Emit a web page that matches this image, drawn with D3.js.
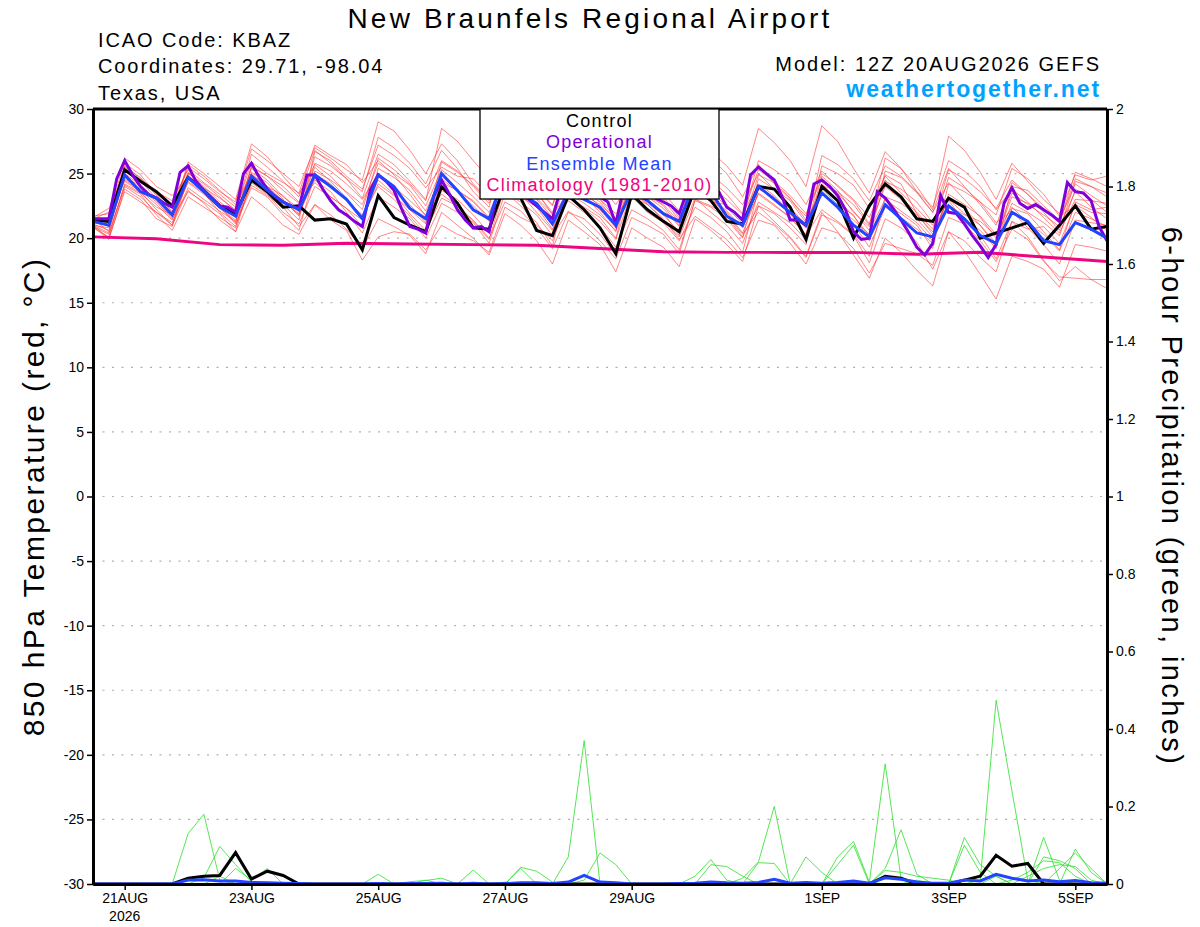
<!DOCTYPE html>
<meta charset="utf-8" />
<title>New Braunfels Regional Airport - GEFS meteogram</title>
<script src="https://cdn.jsdelivr.net/npm/d3@7/dist/d3.min.js"></script>

<style>
  body {
    margin: 0;
    padding: 0;
    background: #fff;
    font-family: "Liberation Sans", Arial, Helvetica, sans-serif;
  }

  .grid line {
    stroke: #b0b0b0;
    stroke-width: 1.2;
    stroke-dasharray: 2, 7.5;
  }

  .axis text {
    font-size: 14px;
    font-family: "Liberation Sans", Arial, sans-serif;
    fill: #000;
  }

  .axis line {
    stroke: #000;
    stroke-width: 1.5;
  }

  .axis path {
    stroke: #000;
    stroke-width: 3;
  }

  .member { fill: none; stroke: #ff2a2a; stroke-width: 0.8; opacity: 0.7; }
  .pmember { fill: none; stroke: #2ee02e; stroke-width: 0.9; opacity: 0.9; }
</style>

<body>
  <div id="chart"></div>
</body>

<script>
  // ---- data ----
  // run start 20AUG2026 12Z, 6-hourly ensemble, 3-hourly operational
  const runStart = Date.UTC(2026, 7, 20, 12);
  const runEnd = Date.UTC(2026, 8, 5, 12);

  const tempTicks = [30, 25, 20, 15, 10, 5, 0, -5, -10, -15, -20, -25, -30];
  const gridTicks = [25, 20, 15, 10, 5, 0, -5, -10, -15, -20, -25];
  const precipTicks = [0, 0.2, 0.4, 0.6, 0.8, 1, 1.2, 1.4, 1.6, 1.8, 2];
  const dateTicks = [
    Date.UTC(2026, 7, 21), Date.UTC(2026, 7, 23), Date.UTC(2026, 7, 25), Date.UTC(2026, 7, 27),
    Date.UTC(2026, 7, 29), Date.UTC(2026, 8, 1), Date.UTC(2026, 8, 3), Date.UTC(2026, 8, 5)
  ];
  const dateLabels = ["21AUG", "23AUG", "25AUG", "27AUG", "29AUG", "1SEP", "3SEP", "5SEP"];

  const legendItems = [
    { name: "Control", color: "#000000" },
    { name: "Operational", color: "#8000dc" },
    { name: "Ensemble Mean", color: "#2244ff" },
    { name: "Climatology (1981-2010)", color: "#ee0580" }
  ];

  // 850 hPa temperature, control (6-hourly)
  const controlTemp = [21.4, 21.3, 25.3, 24.4, 23.6, 22.5, 24.7, 23.7, 22.5, 21.9, 24.5, 23.6,
    22.4, 22.5, 21.4, 21.5, 21.1, 19.1, 23.3, 21.6, 21.0, 20.5, 24.0, 22.7,
    20.8, 20.7, 24.2, 23.1, 20.6, 20.2, 23.3, 22.2, 20.8, 18.8, 23.4, 22.2,
    21.3, 20.5, 23.9, 22.9, 21.3, 21.1, 24.0, 23.8, 22.4, 19.9, 24.0, 22.9,
    20.0, 22.5, 24.2, 23.2, 21.5, 21.3, 23.1, 22.4, 20.0, 20.4, 20.8, 21.2,
    19.6, 21.0, 22.5, 20.7, 20.9];

  // ensemble mean (6-hourly)
  const meanTemp = [21.3, 21.0, 24.9, 23.6, 23.1, 21.8, 24.7, 23.6, 22.4, 21.7, 24.8, 23.7,
    22.8, 22.2, 24.9, 24.0, 23.0, 21.5, 24.9, 24.0, 22.3, 21.5, 25.0, 23.7,
    22.2, 21.5, 25.0, 23.4, 22.7, 21.1, 23.6, 23.0, 22.4, 21.0, 23.7, 22.9,
    21.9, 21.3, 24.3, 23.6, 21.7, 21.0, 24.0, 23.0, 22.0, 21.0, 23.5, 22.4,
    21.0, 20.1, 22.6, 21.5, 20.4, 20.1, 22.5, 21.5, 20.2, 19.6, 22.0, 21.3,
    19.8, 19.5, 21.2, 20.7, 20.0];

  // operational GFS (3-hourly)
  const operTemp = [21.5, 21.5, 21.5, 24.6, 26.0, 24.9, 24.0, 23.4, 23.1, 22.7,
    22.4, 25.1, 25.6, 24.4, 23.7, 23.1, 22.5, 22.4, 22.0, 25.0,
    25.8, 24.7, 23.8, 23.2, 22.8, 22.5, 22.3, 24.9, 24.9, 23.8,
    22.9, 22.2, 21.8, 21.3, 20.9, 23.7, 24.9, 24.4, 23.7, 22.2,
    20.9, 20.7, 20.4, 23.2, 24.5, 23.4, 22.2, 21.4, 20.8, 20.9,
    20.5, 23.5, 24.8, 24.5, 23.8, 23.0, 22.5, 22.0, 21.5, 23.8,
    24.6, 24.0, 23.3, 23.6, 23.2, 22.8, 21.1, 24.0, 25.0, 24.6,
    23.6, 23.1, 22.8, 22.5, 21.9, 23.7, 24.8, 24.5, 24.0, 23.6,
    22.4, 22.0, 21.4, 24.9, 25.5, 25.0, 24.5, 23.2, 21.4, 21.4,
    21.0, 24.2, 24.5, 24.0, 23.3, 22.2, 20.5, 19.9, 20.0, 23.6,
    23.1, 22.3, 21.4, 20.4, 19.3, 18.7, 19.6, 23.3, 22.0, 21.9,
    21.1, 20.2, 19.4, 18.5, 19.5, 22.7, 23.9, 22.7, 22.3, 22.6,
    22.2, 21.8, 21.3, 24.3, 23.6, 23.5, 22.9, 20.9, 19.8];

  // climatology, daily at 12Z
  const climTemp = [20.1, 19.95, 19.5, 19.45, 19.6, 19.55, 19.5, 19.45, 19.2,
    18.95, 18.9, 18.9, 18.9, 18.75, 18.9, 18.55, 18.2];

  // ensemble members (6-hourly), four values per day
  const r01 = [21.5, 20.5, 25.2, 24.3, 23.5, 22.4, 25.5, 24.6, 23.6, 22.8, 26.9, 26.0, 25.0, 24.0, 27.0, 26.2,
    25.3, 24.5, 29.0, 28.3, 26.8, 25.0, 27.3, 26.0, 24.2, 23.0, 26.2, 25.0, 23.5, 22.0, 25.5, 24.4,
    23.0, 21.5, 24.6, 23.5, 22.5, 21.0, 24.0, 23.1, 22.0, 20.4, 23.5, 22.6, 21.6, 20.2, 24.8, 23.7,
    22.0, 20.9, 24.0, 23.0, 21.5, 20.1, 23.2, 22.3, 21.0, 19.6, 22.7, 22.0, 21.2, 20.2, 23.8, 23.0, 22.0];
  const r02 = [21.2, 21.0, 25.8, 24.9, 23.4, 22.0, 24.9, 23.8, 22.6, 21.7, 25.4, 24.5, 23.2, 22.3, 26.3, 25.6,
    24.6, 23.1, 26.5, 25.7, 24.4, 23.0, 26.0, 25.2, 24.0, 22.7, 25.6, 24.9, 23.8, 22.6, 26.2, 25.5,
    24.4, 23.0, 26.8, 26.0, 25.0, 23.7, 27.5, 26.7, 25.6, 24.1, 28.5, 27.4, 26.0, 24.0, 28.7, 27.5,
    25.4, 23.5, 26.7, 25.4, 23.6, 22.0, 25.4, 24.0, 22.6, 21.0, 24.3, 23.4, 22.3, 21.2, 24.6, 24.0, 23.5];
  const r03 = [20.9, 20.3, 24.0, 23.2, 22.0, 21.0, 23.7, 22.7, 21.4, 20.5, 23.2, 22.2, 21.0, 20.3, 22.6, 21.8,
    20.7, 19.2, 21.5, 20.9, 20.2, 18.8, 22.0, 21.0, 20.0, 18.7, 21.9, 21.0, 19.8, 18.0, 21.4, 20.5,
    19.5, 17.4, 20.8, 20.0, 19.3, 17.8, 21.5, 20.6, 19.5, 18.2, 22.5, 21.3, 20.1, 18.6, 22.0, 20.5,
    18.7, 16.9, 20.0, 18.9, 17.5, 16.3, 20.5, 19.8, 18.5, 17.4, 21.3, 20.1, 18.3, 16.7, 17.8, 16.8, 16.1];
  const r04 = [21.0, 20.0, 23.6, 22.8, 22.0, 21.2, 23.9, 23.0, 22.1, 21.3, 24.1, 23.3, 22.4, 20.9, 22.6, 21.4,
    20.6, 18.3, 20.1, 20.5, 20.3, 19.1, 21.0, 20.3, 19.8, 18.9, 22.4, 21.6, 21.0, 19.8, 23.4, 22.3,
    21.3, 19.9, 23.6, 22.6, 21.4, 20.1, 23.1, 22.0, 21.0, 19.6, 22.8, 22.0, 21.2, 19.9, 23.5, 22.4,
    21.1, 19.3, 22.4, 21.6, 20.7, 19.6, 23.4, 22.6, 21.7, 20.3, 22.4, 21.2, 20.3, 19.0, 22.0, 21.5, 20.9];
  const r05 = [21.4, 21.2, 25.6, 24.6, 23.6, 22.9, 25.3, 24.3, 23.4, 22.4, 24.9, 24.0, 22.8, 21.9, 25.2, 24.5,
    23.6, 22.6, 25.8, 25.0, 24.1, 22.5, 25.3, 24.3, 23.2, 22.0, 24.6, 23.6, 22.4, 21.1, 24.0, 23.2,
    22.2, 20.8, 23.6, 22.7, 21.8, 20.5, 24.5, 23.9, 23.0, 21.8, 25.3, 24.4, 23.3, 21.9, 24.6, 23.5,
    22.1, 20.6, 23.0, 22.1, 21.2, 19.8, 22.5, 21.8, 21.3, 20.2, 23.5, 22.6, 21.8, 20.9, 23.6, 22.4, 21.5];
  const r06 = [21.6, 22.3, 25.0, 24.1, 22.9, 21.6, 24.3, 23.4, 22.3, 21.4, 25.6, 24.8, 23.7, 22.7, 25.5, 24.4,
    23.1, 21.5, 24.2, 23.3, 22.2, 21.1, 25.9, 25.1, 24.1, 22.9, 24.8, 23.4, 22.0, 20.6, 23.9, 23.3,
    22.6, 21.5, 25.9, 25.2, 24.4, 23.1, 25.0, 23.7, 22.4, 21.1, 24.9, 24.3, 23.1, 21.4, 23.6, 22.4,
    21.4, 20.3, 24.4, 23.8, 22.8, 21.2, 22.9, 21.3, 20.2, 18.4, 21.3, 20.7, 20.9, 19.6, 22.6, 22.0, 21.9];
  const r07 = [21.1, 20.6, 24.8, 24.0, 23.0, 21.9, 25.1, 24.0, 22.8, 21.9, 26.5, 25.5, 24.4, 23.2, 26.8, 25.8,
    24.6, 23.6, 27.8, 27.0, 25.8, 24.2, 26.8, 25.4, 23.6, 22.4, 27.2, 26.5, 25.2, 23.4, 24.7, 23.3,
    22.0, 20.5, 25.0, 24.3, 23.2, 21.6, 24.4, 23.2, 22.1, 20.8, 23.4, 22.5, 21.6, 20.3, 25.6, 25.0,
    24.1, 22.3, 24.8, 23.5, 22.3, 21.0, 25.3, 24.6, 23.6, 22.3, 24.5, 23.4, 22.0, 20.6, 24.4, 24.0, 23.2];
  const r08 = [21.3, 21.6, 24.5, 23.7, 22.6, 21.4, 24.4, 23.5, 22.0, 20.9, 24.3, 23.4, 22.0, 21.1, 24.0, 23.2,
    22.3, 21.4, 24.9, 24.0, 22.9, 21.8, 24.6, 23.6, 22.5, 21.3, 25.0, 24.2, 23.1, 21.9, 24.8, 23.7,
    22.4, 21.1, 25.4, 24.8, 23.5, 22.1, 24.2, 23.1, 21.7, 20.1, 22.5, 21.9, 20.8, 19.5, 24.1, 23.6,
    22.6, 21.0, 26.2, 25.4, 24.0, 22.2, 27.9, 26.8, 25.1, 23.0, 25.8, 24.4, 23.0, 21.9, 24.9, 24.5, 24.8];
  const r09 = [20.8, 20.1, 24.2, 23.5, 22.4, 21.8, 25.9, 25.0, 24.0, 23.0, 27.3, 26.3, 24.8, 23.4, 25.7, 24.8,
    23.5, 22.2, 26.2, 25.3, 24.2, 22.9, 28.5, 27.5, 26.0, 24.6, 25.8, 24.4, 23.0, 21.6, 24.5, 23.6,
    22.8, 21.3, 24.1, 23.2, 22.3, 20.9, 25.6, 24.9, 23.9, 22.6, 25.0, 23.8, 22.4, 21.0, 24.2, 23.0,
    21.7, 20.2, 25.2, 24.7, 23.5, 22.0, 24.3, 23.0, 21.6, 20.0, 23.2, 22.7, 22.2, 21.2, 25.1, 24.6, 24.0];
  const r10 = [21.5, 22.0, 25.3, 24.4, 23.1, 21.7, 25.7, 24.8, 23.7, 22.6, 25.0, 24.0, 22.9, 21.8, 24.7, 24.0,
    22.9, 21.8, 24.0, 23.0, 21.7, 20.3, 23.7, 23.0, 21.8, 20.4, 24.4, 23.8, 22.7, 21.2, 22.9, 22.0,
    20.9, 19.3, 22.2, 21.5, 20.6, 19.1, 22.9, 22.4, 21.5, 20.0, 24.6, 23.8, 22.9, 21.2, 23.8, 22.6,
    21.8, 19.8, 22.6, 21.9, 21.0, 19.2, 24.2, 23.6, 22.8, 21.2, 22.1, 20.8, 19.5, 18.0, 21.4, 21.2, 21.0];
  const r11 = [21.0, 20.8, 24.6, 23.8, 22.8, 21.5, 23.6, 22.8, 21.9, 20.5, 24.7, 24.0, 23.3, 22.0, 24.5, 23.6,
    22.0, 20.4, 23.2, 22.4, 21.5, 20.0, 22.7, 22.0, 21.2, 19.6, 23.5, 22.8, 21.8, 20.2, 22.1, 21.0,
    19.8, 18.4, 21.6, 21.0, 20.3, 18.8, 23.0, 22.5, 21.8, 20.3, 22.0, 21.1, 20.0, 18.5, 21.8, 21.2,
    20.2, 18.1, 21.5, 20.8, 19.7, 17.6, 20.5, 19.0, 17.2, 15.3, 18.6, 18.2, 17.6, 16.2, 19.5, 19.3, 19.0];
  const r12 = [21.2, 21.4, 26.2, 25.3, 24.0, 23.3, 24.8, 23.6, 22.5, 21.2, 25.5, 24.8, 24.0, 22.8, 24.3, 23.2,
    22.3, 20.9, 25.4, 24.7, 23.7, 22.1, 24.8, 23.7, 22.9, 21.6, 25.3, 24.6, 23.8, 22.5, 25.9, 25.1,
    24.1, 22.6, 24.4, 23.0, 22.0, 20.2, 26.8, 26.2, 25.0, 23.2, 25.7, 24.2, 23.0, 21.7, 25.0, 24.1,
    23.0, 21.6, 24.5, 23.1, 22.0, 20.7, 24.7, 23.9, 22.8, 21.8, 25.4, 24.6, 23.4, 21.7, 22.5, 21.6, 20.6];
  const r13 = [21.7, 21.9, 24.4, 23.6, 22.2, 21.0, 25.0, 24.2, 23.2, 22.1, 25.9, 25.0, 24.3, 23.5, 27.2, 26.4,
    25.7, 24.3, 26.0, 24.9, 23.4, 21.7, 23.4, 22.5, 21.3, 19.9, 24.0, 23.2, 22.4, 20.7, 23.1, 22.4,
    21.6, 20.0, 24.8, 24.2, 23.0, 21.4, 23.7, 22.8, 22.6, 21.4, 26.0, 25.3, 24.4, 22.6, 25.2, 24.0,
    22.9, 21.1, 24.9, 24.2, 21.9, 20.3, 22.5, 21.4, 20.6, 19.2, 24.0, 23.7, 22.5, 21.4, 24.2, 23.3, 22.5];
  const r14 = [21.0, 20.4, 24.1, 23.4, 21.8, 20.6, 23.2, 22.4, 21.6, 20.8, 25.1, 24.3, 23.0, 21.7, 25.8, 25.2,
    24.2, 23.0, 25.0, 23.8, 22.6, 21.2, 24.3, 23.7, 22.8, 21.5, 23.6, 22.5, 21.2, 19.4, 24.3, 23.8,
    23.0, 21.9, 23.2, 22.0, 21.2, 19.8, 22.4, 21.6, 20.5, 18.9, 23.8, 23.2, 21.9, 20.2, 22.2, 21.3,
    20.3, 18.6, 23.2, 22.7, 21.8, 20.5, 23.0, 21.9, 21.0, 19.3, 22.3, 21.9, 20.5, 19.1, 22.8, 22.2, 22.4];
  const r15 = [21.4, 20.9, 25.5, 24.7, 23.3, 22.1, 24.6, 23.9, 23.1, 22.2, 24.6, 23.6, 22.6, 21.4, 26.7, 26.0,
    24.8, 23.8, 27.2, 26.4, 25.4, 23.9, 25.5, 24.8, 24.6, 23.3, 26.6, 25.4, 23.6, 21.8, 23.5, 22.7,
    21.8, 20.6, 23.8, 23.2, 22.6, 21.3, 25.3, 24.5, 23.4, 21.9, 24.2, 23.3, 22.0, 20.8, 26.4, 25.7,
    24.6, 22.9, 25.6, 24.8, 23.6, 22.4, 26.0, 25.2, 24.0, 22.2, 23.8, 22.8, 21.6, 20.4, 23.0, 22.9, 22.7];
  const r16 = [20.9, 19.9, 23.8, 23.0, 21.5, 20.9, 24.6, 23.7, 22.4, 21.1, 23.9, 23.2, 21.8, 20.6, 25.0, 24.2,
    23.0, 21.7, 24.5, 23.4, 21.9, 20.6, 23.1, 22.5, 21.4, 20.0, 22.8, 22.1, 20.8, 19.2, 22.0, 21.5,
    20.3, 18.7, 23.2, 22.6, 21.5, 19.9, 21.7, 20.8, 19.9, 18.5, 21.4, 21.0, 19.6, 18.0, 20.8, 20.4,
    19.2, 17.3, 19.6, 19.2, 18.8, 17.9, 21.6, 21.1, 19.8, 18.2, 20.7, 19.9, 18.2, 17.0, 16.9, 16.8, 16.8];
  const tempMembers = [r01, r02, r03, r04, r05, r06, r07, r08, r09, r10, r11, r12, r13, r14, r15, r16];

  // 6-hour precipitation (inches)
  const controlPrecip = [0, 0, 0, 0, 0, 0, 0.015, 0.02, 0.022, 0.081, 0.013, 0.033, 0.022,
    0, 0, 0, 0, 0, 0, 0, 0, 0, 0, 0, 0, 0,
    0, 0, 0, 0, 0, 0, 0, 0, 0, 0, 0, 0, 0,
    0, 0, 0, 0, 0, 0, 0, 0, 0, 0, 0, 0.02, 0.015,
    0, 0, 0, 0.01, 0.02, 0.074, 0.046, 0.053, 0, 0, 0, 0, 0];
  const meanPrecip = [0, 0, 0, 0, 0, 0, 0.01, 0.011, 0.008, 0.008, 0.004, 0.003, 0.002,
    0.001, 0, 0, 0, 0, 0.001, 0, 0.001, 0.001, 0.002, 0, 0.002, 0,
    0.001, 0.003, 0.003, 0.001, 0.005, 0.022, 0.005, 0.003, 0, 0, 0, 0.001, 0.002,
    0.005, 0.003, 0.002, 0.004, 0.012, 0.002, 0.004, 0.002, 0.004, 0.008, 0.002, 0.016, 0.012,
    0.005, 0.002, 0.002, 0.01, 0.008, 0.025, 0.015, 0.008, 0.01, 0.006, 0.009, 0.003, 0.002];

  // members, 13 rows of 5 values each
  const g01 = [0, 0, 0, 0, 0, 0, 0.13, 0.18, 0.01, 0, 0, 0, 0, 0, 0, 0, 0, 0, 0, 0, 0, 0, 0, 0, 0,
    0, 0, 0, 0, 0, 0, 0, 0, 0, 0, 0, 0, 0, 0, 0, 0, 0.015, 0.057, 0.2, 0,
    0, 0, 0, 0, 0, 0, 0, 0, 0, 0, 0, 0, 0, 0, 0, 0, 0, 0, 0, 0];
  const g02 = [0, 0, 0, 0, 0, 0, 0, 0.016, 0.097, 0.05, 0.005, 0, 0, 0, 0, 0, 0, 0, 0, 0, 0, 0, 0, 0, 0,
    0, 0, 0, 0, 0, 0, 0, 0, 0, 0, 0, 0, 0, 0, 0, 0, 0, 0, 0, 0,
    0, 0, 0, 0, 0.005, 0.31, 0.015, 0, 0, 0, 0, 0, 0, 0, 0, 0, 0, 0, 0, 0];
  const g03 = [0, 0, 0, 0, 0, 0, 0, 0, 0, 0, 0, 0, 0, 0, 0, 0, 0, 0, 0, 0, 0, 0, 0, 0, 0,
    0, 0, 0, 0, 0, 0.07, 0.37, 0, 0, 0, 0, 0, 0, 0, 0, 0, 0, 0, 0, 0,
    0, 0, 0, 0, 0, 0, 0, 0, 0, 0, 0, 0, 0, 0, 0, 0, 0, 0, 0, 0];
  const g04 = [0, 0, 0, 0, 0, 0, 0, 0, 0, 0.04, 0.01, 0.04, 0, 0, 0, 0, 0, 0, 0, 0, 0, 0, 0, 0, 0,
    0, 0, 0.043, 0.033, 0.005, 0, 0, 0, 0, 0, 0, 0, 0, 0, 0, 0, 0, 0, 0, 0,
    0, 0, 0, 0, 0, 0, 0, 0, 0, 0, 0, 0.01, 0.474, 0.24, 0.01, 0, 0, 0, 0, 0];
  const g05 = [0, 0, 0, 0, 0, 0, 0, 0, 0, 0, 0, 0, 0, 0, 0, 0, 0, 0, 0.025, 0, 0, 0, 0, 0, 0,
    0, 0, 0, 0, 0, 0, 0.01, 0.08, 0.05, 0, 0, 0, 0, 0, 0, 0, 0, 0, 0, 0,
    0, 0, 0, 0, 0, 0.04, 0.14, 0.025, 0, 0, 0, 0, 0, 0, 0, 0, 0, 0, 0, 0];
  const g06 = [0, 0, 0, 0, 0, 0, 0, 0, 0, 0, 0, 0, 0, 0, 0, 0, 0, 0, 0, 0, 0.006, 0.009, 0.015, 0, 0.036,
    0, 0, 0, 0, 0, 0, 0, 0, 0, 0, 0, 0, 0, 0.02, 0.063, 0.01, 0, 0, 0, 0,
    0, 0, 0, 0, 0, 0, 0, 0, 0, 0, 0.12, 0.05, 0.02, 0, 0, 0, 0, 0, 0, 0];
  const g07 = [0, 0, 0, 0, 0, 0, 0, 0, 0, 0, 0, 0, 0, 0, 0, 0, 0, 0, 0, 0, 0, 0, 0, 0, 0,
    0, 0, 0.04, 0, 0, 0, 0, 0, 0, 0, 0, 0, 0, 0, 0.05, 0.045, 0.02, 0, 0, 0,
    0.07, 0.03, 0, 0, 0, 0, 0, 0, 0, 0, 0, 0, 0, 0, 0, 0.12, 0.01, 0, 0, 0];
  const g08 = [0, 0, 0, 0, 0, 0, 0, 0, 0, 0, 0, 0, 0, 0, 0, 0, 0, 0, 0, 0, 0, 0, 0, 0, 0,
    0, 0, 0, 0, 0, 0, 0, 0, 0, 0, 0, 0, 0, 0, 0, 0, 0, 0, 0, 0,
    0, 0, 0.07, 0.11, 0.005, 0, 0, 0, 0, 0, 0.1, 0.03, 0, 0, 0, 0.07, 0.06, 0.04, 0, 0];
  const g09 = [0, 0, 0, 0, 0, 0, 0, 0, 0, 0, 0, 0, 0, 0, 0, 0, 0, 0, 0, 0, 0, 0, 0, 0, 0,
    0, 0, 0, 0, 0, 0, 0, 0, 0, 0, 0, 0, 0, 0, 0, 0, 0, 0, 0, 0,
    0, 0, 0.05, 0.1, 0, 0.035, 0.03, 0.02, 0.015, 0.01, 0, 0, 0, 0, 0, 0, 0, 0.09, 0.03, 0];
  const g10 = [0, 0, 0, 0, 0, 0, 0, 0, 0, 0, 0, 0, 0, 0, 0, 0, 0, 0, 0, 0, 0, 0, 0, 0, 0,
    0, 0, 0, 0, 0, 0, 0, 0, 0, 0, 0, 0, 0, 0, 0, 0, 0, 0.055, 0.053, 0,
    0, 0, 0, 0, 0, 0, 0, 0, 0, 0, 0, 0, 0.02, 0, 0, 0, 0.04, 0.08, 0.04, 0];
  const g11 = [0, 0, 0, 0, 0, 0, 0, 0, 0, 0, 0, 0, 0, 0, 0, 0, 0, 0, 0, 0, 0, 0.01, 0, 0, 0,
    0, 0.005, 0, 0, 0, 0, 0, 0, 0, 0, 0, 0, 0, 0, 0, 0, 0, 0, 0, 0,
    0, 0, 0, 0, 0, 0, 0, 0, 0, 0, 0, 0, 0, 0, 0.02, 0.04, 0.05, 0.045, 0.01, 0];
  const g12 = [0, 0, 0, 0, 0, 0, 0, 0, 0.02, 0, 0, 0, 0, 0, 0, 0, 0, 0, 0, 0, 0, 0, 0, 0, 0,
    0, 0, 0, 0, 0, 0, 0, 0, 0, 0, 0, 0, 0, 0, 0, 0, 0, 0, 0, 0,
    0, 0, 0, 0, 0, 0, 0, 0.01, 0, 0, 0, 0, 0, 0.01, 0.03, 0.06, 0.055, 0.02, 0, 0];
  const precipMembers = [g01, g02, g03, g04, g05, g06, g07, g08, g09, g10, g11, g12];

  // ---- layout ----
  const W = 1200, H = 927;
  const margin = { top: 109, right: 93, bottom: 43, left: 93 },
    width = W - margin.left - margin.right,
    height = H - margin.top - margin.bottom;

  const x = d3.scaleUtc().domain([runStart, runEnd]).range([0, width]);
  const y = d3.scaleLinear().domain([-30, 30]).range([height, 0]);
  const yP = d3.scaleLinear().domain([0, 2]).range([height, 0]);

  const HOUR = 3600 * 1000;
  const t6 = function (i) { return runStart + i * 6 * HOUR; };
  const t3 = function (i) { return runStart + i * 3 * HOUR; };
  const t24 = function (i) { return runStart + i * 24 * HOUR; };

  const svg = d3.select("#chart").append("svg")
    .attr("width", W)
    .attr("height", H);

  // header texts (the original font is set wide, hence the letter spacing)
  svg.append("text").attr("x", 590).attr("y", 28).attr("text-anchor", "middle")
    .style("font-size", "28px").style("letter-spacing", "3.2px")
    .text("New Braunfels Regional Airport");
  const headLeft = ["ICAO Code: KBAZ", "Coordinates: 29.71, -98.04", "Texas, USA"];
  headLeft.forEach(function (s, i) {
    svg.append("text").attr("x", 98).attr("y", 46.5 + i * 26.5)
      .style("font-size", "20px").style("letter-spacing", "1.9px").text(s);
  });
  svg.append("text").attr("x", 1101).attr("y", 71).attr("text-anchor", "end")
    .style("font-size", "20px").style("letter-spacing", "2px")
    .text("Model: 12Z 20AUG2026 GEFS");
  svg.append("text").attr("x", 1101).attr("y", 97).attr("text-anchor", "end")
    .style("font-size", "23px").style("font-weight", "bold").style("fill", "#00a2ff")
    .style("letter-spacing", "1.9px")
    .text("weathertogether.net");

  // axis titles
  svg.append("text")
    .attr("transform", "translate(44," + (margin.top + height / 2) + ") rotate(-90)")
    .attr("text-anchor", "middle").style("font-size", "30px").style("letter-spacing", "2.4px")
    .text("850 hPa Temperature (red, \u00B0C)");
  svg.append("text")
    .attr("transform", "translate(1162," + (margin.top + height / 2) + ") rotate(90)")
    .attr("text-anchor", "middle").style("font-size", "29px").style("letter-spacing", "2.4px")
    .text("6-hour Precipitation (green, inches)");

  const g = svg.append("g")
    .attr("transform", "translate(" + margin.left + "," + margin.top + ")");

  // gridlines
  g.append("g").attr("class", "grid")
    .selectAll("line").data(gridTicks).enter().append("line")
    .attr("x1", 0).attr("x2", width)
    .attr("y1", function (d) { return y(d); })
    .attr("y2", function (d) { return y(d); });

  const lineT6 = d3.line().x(function (d, i) { return x(t6(i)); }).y(function (d) { return y(d); });
  const lineT3 = d3.line().x(function (d, i) { return x(t3(i)); }).y(function (d) { return y(d); });
  const lineT24 = d3.line().x(function (d, i) { return x(t24(i)); }).y(function (d) { return y(d); });
  const lineP6 = d3.line().x(function (d, i) { return x(t6(i)); }).y(function (d) { return yP(d); });

  //members
  g.selectAll(".member").data(tempMembers).enter().append("path")
    .attr("class", "member").attr("d", lineT6);
  g.selectAll(".pmember").data(precipMembers).enter().append("path")
    .attr("class", "pmember").attr("d", lineP6);

  // climatology
  g.append("path").datum(climTemp).attr("d", lineT24)
    .style("fill", "none").style("stroke", "#ee0580").style("stroke-width", 3);

  // control
  g.append("path").datum(controlTemp).attr("d", lineT6)
    .style("fill", "none").style("stroke", "#000").style("stroke-width", 3);
  g.append("path").datum(controlPrecip).attr("d", lineP6)
    .style("fill", "none").style("stroke", "#000").style("stroke-width", 3);

  // operational
  g.append("path").datum(operTemp).attr("d", lineT3)
    .style("fill", "none").style("stroke", "#8000dc").style("stroke-width", 3);

  // mean
  g.append("path").datum(meanTemp).attr("d", lineT6)
    .style("fill", "none").style("stroke", "#2244ff").style("stroke-width", 3);
  g.append("path").datum(meanPrecip).attr("d", lineP6)
    .style("fill", "none").style("stroke", "#2244ff").style("stroke-width", 3);

  // axes
  g.append("g").attr("class", "axis")
    .call(d3.axisLeft(y).tickValues(tempTicks).tickSize(6).tickSizeOuter(0).tickPadding(3)
      .tickFormat(function (d) { return String(d); }));
  g.append("g").attr("class", "axis")
    .attr("transform", "translate(" + width + ",0)")
    .call(d3.axisRight(yP).tickValues(precipTicks).tickSize(6).tickSizeOuter(0).tickPadding(3)
      .tickFormat(function (d) { return String(+d.toFixed(1)); }));
  const xAxis = g.append("g").attr("class", "axis")
    .attr("transform", "translate(0," + height + ")")
    .call(d3.axisBottom(x).tickValues(dateTicks).tickSize(6).tickSizeOuter(0).tickPadding(3)
      .tickFormat(function (d, i) { return dateLabels[i]; }));
  xAxis.append("text").attr("x", x(dateTicks[0])).attr("y", 37)
    .attr("text-anchor", "middle").style("fill", "#000").text("2026");

  // top border
  g.append("line").attr("x1", 0).attr("x2", width).attr("y1", 0).attr("y2", 0)
    .style("stroke", "#000").style("stroke-width", 3);

  // legend
  const lg = svg.append("g");
  lg.append("rect").attr("x", 480).attr("y", 109).attr("width", 239).attr("height", 90)
    .style("fill", "#fff").style("stroke", "#000").style("stroke-width", 1.3);
  lg.selectAll("text").data(legendItems).enter().append("text")
    .attr("x", 599.5)
    .attr("y", function (d, i) { return 127 + i * 21.3; })
    .attr("text-anchor", "middle")
    .style("font-size", "18px")
    .style("letter-spacing", "1.25px")
    .style("fill", function (d) { return d.color; })
    .text(function (d) { return d.name; });
</script>
